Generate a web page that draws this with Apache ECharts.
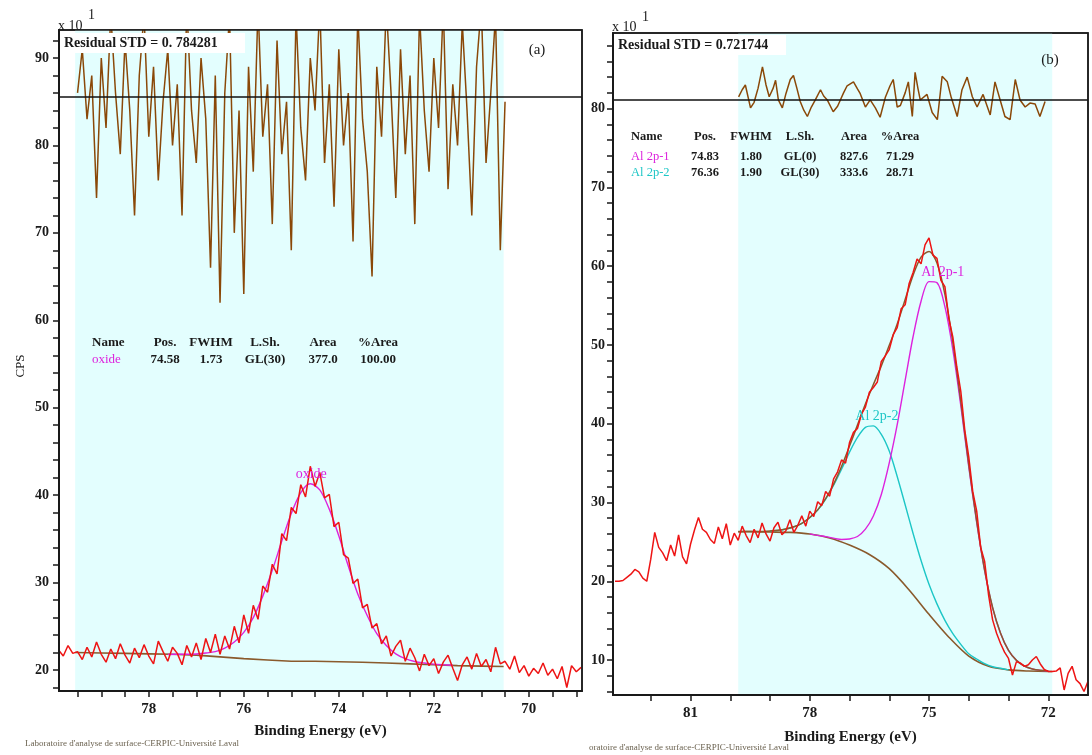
<!DOCTYPE html>
<html>
<head>
<meta charset="utf-8">
<script src="https://cdn.jsdelivr.net/npm/echarts@6.0.0/dist/echarts.min.js"></script>
<style>
  html, body { margin: 0; padding: 0; background: #ffffff; }
  #chart { width: 1092px; height: 755px; }
</style>
</head>
<body>
<div id="chart"></div>
<script>
// ---------------- Panel (a): single "oxide" component ----------------
// raw counts (x10), 0.1 eV step starting at 79.9 eV going down
const rawAStart = 79.9;
const rawAStep = 0.1;
const rawA = [
  22.3, 21.6, 22.8, 21.9, 22.1, 21.2, 22.6, 21.5, 23.2, 21.8,
  20.9, 22.4, 21.3, 23.0, 21.7, 20.8, 22.5, 21.4, 22.9, 21.6,
  20.7, 23.3, 22.1, 21.0, 22.6, 21.9, 20.6, 22.8, 21.5, 23.1,
  21.2, 23.6, 22.0, 24.1, 21.8, 23.9, 22.4, 25.0, 23.1, 26.3,
  24.2, 27.4, 25.8, 29.6, 28.9, 32.1, 31.0, 35.6, 34.8, 38.6,
  37.9, 41.2, 39.8, 43.3, 41.0, 42.6, 39.7, 40.1, 36.4, 36.9,
  33.2, 32.8, 29.9, 30.4, 27.1, 27.5, 24.8, 25.3, 23.0, 23.9,
  21.6, 22.7, 23.4, 21.0, 22.5, 21.4, 19.9, 21.8, 20.5, 21.3,
  19.6, 20.9, 21.7, 20.2, 18.8, 20.6, 21.5, 20.1, 21.9, 20.4,
  21.2, 19.8, 22.6, 20.7, 21.0, 20.1, 21.6, 19.7, 20.5, 19.3,
  20.2, 19.6, 20.8, 19.4, 20.1, 19.0, 20.4, 18.0, 20.5, 19.8,
  20.3
];
// Shirley-type background
const bgAEnergy = [79.55, 79.0, 78.5, 78.0, 77.5, 77.0, 76.5, 76.0, 75.5, 75.0, 74.5, 74.0, 73.5, 73.0, 72.5, 72.0, 71.5, 71.0, 70.53];
const bgA       = [22.0, 21.95, 21.9, 21.85, 21.8, 21.7, 21.5, 21.3, 21.15, 21.0, 21.0, 20.95, 20.88, 20.8, 20.7, 20.6, 20.5, 20.45, 20.4];
// fitted oxide component (on top of background), 0.2 eV step from 77.6 eV
const oxideStart = 77.6;
const oxideStep = 0.2;
const oxideFit = [
  21.78, 21.8, 21.8, 21.84, 21.94, 22.1, 22.5, 23.2, 24.3, 26.0,
  28.45, 31.4, 34.75, 37.9, 40.3, 41.3, 40.6, 38.4, 35.35, 31.9,
  28.7, 26.2, 24.15, 22.8, 21.85, 21.3, 20.98, 20.8, 20.67, 20.6,
  20.55
];
// residual trace, drawn around its own zero line
const residAStart = 79.5;
const residAStep = 0.1;
const residAZero = 85.54;
const residA = [
  86, 91, 83, 88, 74, 90, 82, 95, 86, 79,
  92, 84, 72, 88, 95, 81, 89, 76, 85, 91,
  80, 87, 72, 96, 84, 78, 90, 83, 66, 88,
  62, 86, 95, 70, 84, 63, 89, 77, 96, 81,
  87, 71, 92, 79, 85, 68, 95, 82, 76, 90,
  84, 96, 78, 87, 73, 91, 80, 86, 69, 95,
  83, 77, 65, 89, 81, 96, 86, 74, 91, 79,
  88, 71, 95, 84, 77, 90, 82, 96, 75, 87,
  80, 94, 84, 72, 89, 96, 78, 86, 95, 68,
  85
];
const cyanRangeA = [79.55, 70.53];

// ---------------- Panel (b): Al 2p doublet fit ----------------
const rawBStart = 82.9;
const rawBStep = 0.1;
const rawB = [
  20.0, 20.0, 20.1, 20.5, 20.9, 21.5, 21.2, 20.4, 20.0, 22.8,
  26.2, 24.3, 23.6, 22.6, 24.6, 23.2, 25.9, 23.1, 22.2, 24.7,
  26.5, 28.1, 26.6, 26.2, 25.3, 24.8, 26.9, 25.4, 27.3, 24.6,
  26.1, 25.2, 27.0, 25.8, 24.9, 26.6, 25.5, 27.4, 26.0, 25.1,
  26.8, 27.5, 25.9, 26.4, 27.8, 26.2, 27.1, 28.3, 27.0, 28.9,
  28.2, 30.1, 29.6, 31.4, 30.8, 33.0, 33.9, 35.4, 35.0, 37.6,
  38.9, 39.4, 41.2, 42.1, 44.0, 44.6, 45.3, 47.9, 48.6, 49.4,
  51.3, 52.2, 54.6, 55.1, 57.8, 59.2, 60.9, 60.3, 62.7, 63.6,
  61.4, 61.0, 58.2, 57.4, 53.3, 51.0, 47.2, 44.1, 39.2, 35.8,
  31.4, 28.9, 24.3, 22.5, 18.2, 15.1, 13.4, 12.1, 11.0, 10.2,
  8.1, 9.8, 9.6, 9.2, 9.4, 10.0, 10.45, 9.5, 8.8, 8.55,
  8.55, 8.6, 9.0, 6.2, 8.3, 9.2, 7.5, 7.0, 6.0, 7.3
];
const bgBEnergy = [79.8, 79.5, 79.0, 78.5, 78.0, 77.5, 77.0, 76.5, 76.0, 75.5, 75.0, 74.5, 74.0, 73.5, 73.0, 72.5, 72.0, 71.9];
const bgB       = [26.3, 26.3, 26.25, 26.2, 26.0, 25.5, 24.6, 23.4, 21.6, 18.9, 15.8, 12.9, 10.5, 9.2, 8.75, 8.6, 8.55, 8.55];
// Al 2p-1 component (on background), 0.2 eV step from 78.0 eV
const al1Start = 78.0;
const al1Step = 0.2;
const al1Fit = [
  26.01, 25.82, 25.66, 25.47, 25.31, 25.37, 25.68, 26.61, 28.29, 31.01,
  35.02, 39.88, 45.51, 51.07, 55.55, 58.04, 57.91, 54.86, 49.38, 42.29,
  34.51, 27.45, 21.32, 16.63, 13.39, 11.22, 9.96, 9.24, 8.87, 8.69,
  8.60
];
// Al 2p-2 component (on background), 0.2 eV step from 79.0 eV
const al2Start = 79.0;
const al2Step = 0.2;
const al2Fit = [
  26.37, 26.46, 26.63, 26.91, 27.35, 28.08, 29.04, 30.43, 32.19, 34.22,
  36.39, 38.26, 39.53, 39.72, 38.65, 36.53, 33.30, 29.71, 26.07, 22.64,
  19.62, 17.13, 15.04, 13.35, 11.99, 10.79, 10.13, 9.54, 9.15, 8.95,
  8.75
];
// envelope, 0.2 eV step from 79.8 eV
const envBStart = 79.8;
const envBStep = 0.2;
const envB = [
  26.3, 26.32, 26.32, 26.33, 26.37, 26.46, 26.63, 26.91, 27.35, 28.09,
  29.06, 30.49, 32.34, 34.57, 37.16, 39.82, 42.50, 44.97, 47.34, 49.95,
  52.66, 55.78, 58.86, 61.15, 61.86, 60.40, 56.42, 50.31, 42.82, 34.80,
  27.60, 21.40, 16.67, 13.41, 11.22, 9.96, 9.24, 8.87, 8.69, 8.60
];
const residBZero = 81.13;
const residBEnergy = [
  79.79, 79.7, 79.62, 79.49, 79.4, 79.3, 79.19, 79.1, 79.02, 78.92,
  78.86, 78.79, 78.69, 78.6, 78.49, 78.41, 78.32, 78.24, 78.15, 78.06,
  77.96, 77.86, 77.73, 77.65, 77.56, 77.41, 77.3, 77.23, 77.15, 77.06,
  76.9, 76.8, 76.73, 76.6, 76.48, 76.35, 76.23, 76.1, 75.98, 75.9,
  75.8, 75.72, 75.6, 75.52, 75.42, 75.35, 75.28, 75.22, 75.05, 74.92,
  74.79, 74.67, 74.54, 74.44, 74.29, 74.17, 74.04, 73.91, 73.79, 73.64,
  73.46, 73.34, 73.21, 73.09, 72.96, 72.83, 72.71, 72.58, 72.46, 72.33,
  72.21, 72.08
];
const residB = [
  81.5, 82.4, 83.0, 80.1, 80.8, 82.6, 85.3, 83.0, 81.5, 82.6,
  83.6, 81.1, 80.1, 81.9, 83.7, 84.2, 82.5, 80.9, 79.8, 79.0,
  80.2, 81.1, 82.4, 81.6, 81.1, 79.6, 80.3, 81.1, 82.0, 82.9,
  83.4, 82.5, 81.9, 80.2, 81.1, 80.1, 78.9, 81.4, 82.9, 83.7,
  80.2, 80.4, 82.0, 83.4, 79.0, 84.6, 82.6, 81.1, 81.8, 79.5,
  78.6, 84.1, 83.4, 81.4, 79.0, 82.4, 84.0, 81.5, 80.2, 81.8,
  79.2, 83.4, 81.1, 79.0, 78.6, 83.7, 81.1, 80.2, 80.7, 80.6,
  79.0, 80.9
];
const cyanRangeB = [79.8, 71.9];

// ---------------- axes ----------------
const xTicksA  = [69, 69.5, 70, 70.5, 71, 71.5, 72, 72.5, 73, 73.5, 74, 74.5, 75, 75.5, 76, 76.5, 77, 77.5, 78, 78.5, 79, 79.5];
const xLabelsA = [70, 72, 74, 76, 78];
const yTicksA  = [18, 20, 22, 24, 26, 28, 30, 32, 34, 36, 38, 40, 42, 44, 46, 48, 50, 52, 54, 56, 58, 60, 62, 64, 66, 68, 70, 72, 74, 76, 78, 80, 82, 84, 86, 88, 90, 92];
const yLabelsA = [20, 30, 40, 50, 60, 70, 80, 90];
const xTicksB  = [72, 73, 74, 75, 76, 77, 78, 79, 80, 81, 82];
const xLabelsB = [72, 75, 78, 81];
const yTicksB  = [6, 8, 10, 12, 14, 16, 18, 20, 22, 24, 26, 28, 30, 32, 34, 36, 38, 40, 42, 44, 46, 48, 50, 52, 54, 56, 58, 60, 62, 64, 66, 68, 70, 72, 74, 76, 78, 80, 82, 84, 86, 88];
const yLabelsB = [10, 20, 30, 40, 50, 60, 70, 80];

// ---------------- tables ----------------
const tableHead = ['Name', 'Pos.', 'FWHM', 'L.Sh.', 'Area', '%Area'];
const tableRowsA = [['oxide', '74.58', '1.73', 'GL(30)', '377.0', '100.00']];
const tableRowsB = [
  ['Al 2p-1', '74.83', '1.80', 'GL(0)', '827.6', '71.29'],
  ['Al 2p-2', '76.36', '1.90', 'GL(30)', '333.6', '28.71']
];

// ---------------- drawing ----------------
const SERIF = '"Liberation Serif", "DejaVu Serif", serif';
const RED = '#ee1414';
const RESID = '#8a4808';
const BROWN = '#8a5a2c';
const MAGENTA = '#dd22dd';
const CYAN = '#1cc6c6';
const CYAN_FILL = '#e3fefe';

function stepPairs(start, step, values) {
  return values.map((v, i) => [+(start - i * step).toFixed(3), v]);
}
function zipPairs(xs, ys) { return xs.map((x, i) => [x, ys[i]]); }

function xAxisDef(gi, min, max, ticks, labels, gap) {
  return {
    gridIndex: gi, type: 'value', inverse: true, min: min, max: max, z: 10,
    axisLine: { show: true, onZero: false, lineStyle: { color: '#1a1a1a', width: 2 } },
    axisTick: { show: true, inside: false, length: 6, customValues: ticks, lineStyle: { color: '#1a1a1a', width: 1.5 } },
    axisLabel: { show: true, customValues: labels, margin: 11, fontFamily: SERIF, fontSize: 15, fontWeight: 'bold', color: '#1a1a1a' },
    splitLine: { show: false },
    name: 'Binding Energy (eV)', nameLocation: 'middle', nameGap: gap,
    nameTextStyle: { fontFamily: SERIF, fontSize: 15, fontWeight: 'bold', color: '#1a1a1a' }
  };
}
function yAxisDef(gi, min, max, ticks, labels, margin) {
  return {
    gridIndex: gi, type: 'value', min: min, max: max, z: 10,
    axisLine: { show: true, onZero: false, lineStyle: { color: '#1a1a1a', width: 2 } },
    axisTick: { show: true, inside: false, length: 6, customValues: ticks, lineStyle: { color: '#1a1a1a', width: 1.5 } },
    axisLabel: { show: true, customValues: labels, margin: margin, fontFamily: SERIF, fontSize: 14, fontWeight: 'bold', color: '#1a1a1a' },
    splitLine: { show: false }
  };
}
function lineSeries(xi, data, color, width, extra) {
  return Object.assign({
    type: 'line', xAxisIndex: xi, yAxisIndex: xi, data: data,
    showSymbol: false, symbol: 'none', animation: false, silent: true,
    lineStyle: { color: color, width: width }, itemStyle: { color: color }
  }, extra || {});
}
function peakLabel(text, coord, color, offset) {
  return {
    symbol: 'circle', symbolSize: 1, silent: true, animation: false,
    itemStyle: { color: 'rgba(0,0,0,0)' },
    label: { show: true, position: 'top', distance: 2, offset: offset, formatter: text,
             color: color, fontFamily: SERIF, fontSize: 14 },
    data: [{ coord: coord }]
  };
}
function zeroLine(v) {
  return {
    silent: true, symbol: ['none', 'none'], animation: false,
    label: { show: false },
    lineStyle: { color: '#111', width: 1.5, type: 'solid' },
    data: [{ yAxis: v }]
  };
}
function cyanArea(range) {
  return { silent: true, itemStyle: { color: CYAN_FILL }, data: [[{ xAxis: range[0] }, { xAxis: range[1] }]] };
}

const graphics = [];
function txt(x, y, s, o) {
  o = o || {};
  graphics.push({
    type: 'text', x: x, y: y, z: 100, silent: true, rotation: o.rotation || 0,
    style: {
      text: s, fill: o.color || '#1a1a1a',
      font: (o.weight || 'bold') + ' ' + (o.size || 13) + 'px ' + SERIF,
      textAlign: o.align || 'left', textVerticalAlign: 'middle'
    }
  });
}
function box(x, y, w, h) {
  graphics.push({ type: 'rect', z: 99, silent: true, shape: { x: x, y: y, width: w, height: h }, style: { fill: '#ffffff' } });
}
function frame(x, y, w, h) {
  graphics.push({ type: 'rect', z: 101, silent: true, shape: { x: x, y: y, width: w, height: h },
                  style: { fill: null, stroke: '#1a1a1a', lineWidth: 1.5 } });
}
function table(head, rows, nameX, cols, headY, rowYs, rowColors, size) {
  txt(nameX, headY, head[0], { size: size });
  for (let c = 1; c < head.length; c++) txt(cols[c - 1], headY, head[c], { size: size, align: 'center' });
  rows.forEach((r, i) => {
    txt(nameX, rowYs[i], r[0], { size: size, color: rowColors[i], weight: 'normal' });
    for (let c = 1; c < r.length; c++) txt(cols[c - 1], rowYs[i], r[c], { size: size, align: 'center' });
  });
}

// scale factor labels
txt(58, 26, 'x 10', { size: 14, weight: 'normal' });
txt(88, 15, '1', { size: 14, weight: 'normal' });
txt(612, 27, 'x 10', { size: 14, weight: 'normal' });
txt(642, 17, '1', { size: 14, weight: 'normal' });
// residual summaries
box(61, 33, 184, 20);
txt(64, 43, 'Residual STD = 0. 784281', { size: 14 });
box(615, 35, 171, 20);
txt(618, 45, 'Residual STD = 0.721744', { size: 14 });
// panel tags
txt(537, 50, '(a)', { size: 15, weight: 'normal', align: 'center' });
txt(1050, 60, '(b)', { size: 15, weight: 'normal', align: 'center' });
// component tables
table(tableHead, tableRowsA, 92, [165, 211, 265, 323, 378], 343, [360], [MAGENTA], 13);
table(tableHead, tableRowsB, 631, [705, 751, 800, 854, 900], 137, [157, 173], [MAGENTA, CYAN], 12.5);
// y axis title
txt(21, 366, 'CPS', { size: 13, weight: 'normal', align: 'center', rotation: Math.PI / 2 });
// lab footers
txt(25, 744, "Laboratoire d'analyse de surface-CERPIC-Université Laval", { size: 9, weight: 'normal', color: '#6b6250' });
txt(589, 748, "oratoire d'analyse de surface-CERPIC-Université Laval", { size: 9, weight: 'normal', color: '#6b6250' });
// plot frames drawn over the shaded fit ranges
frame(59, 30, 523, 661);
frame(613, 33, 475, 662);

const oxidePos = Number(tableRowsA[0][1]);
const al1Pos = Number(tableRowsB[0][1]);
const al2Pos = Number(tableRowsB[1][1]);

const option = {
  backgroundColor: '#ffffff',
  animation: false,
  grid: [
    { left: 59, top: 30, width: 523, height: 661, show: true, borderColor: '#1a1a1a', borderWidth: 1.5, outerBoundsMode: 'none', containLabel: false },
    { left: 613, top: 33, width: 475, height: 662, show: true, borderColor: '#1a1a1a', borderWidth: 1.5, outerBoundsMode: 'none', containLabel: false }
  ],
  xAxis: [
    xAxisDef(0, 68.88, 79.89, xTicksA, xLabelsA, 33),
    xAxisDef(1, 71.0, 82.95, xTicksB, xLabelsB, 35)
  ],
  yAxis: [
    yAxisDef(0, 17.6, 93.2, yTicksA, yLabelsA, 10),
    yAxisDef(1, 5.56, 89.6, yTicksB, yLabelsB, 8)
  ],
  series: [
    // panel (a)
    lineSeries(0, zipPairs(bgAEnergy, bgA), BROWN, 1.6, { markArea: cyanArea(cyanRangeA) }),
    lineSeries(0, stepPairs(oxideStart, oxideStep, oxideFit), MAGENTA, 1.4, {
      smooth: 0.3,
      markPoint: peakLabel('oxide', [oxidePos, Math.max.apply(null, oxideFit)], MAGENTA, [0, 0])
    }),
    lineSeries(0, stepPairs(rawAStart, rawAStep, rawA), RED, 1.5),
    lineSeries(0, stepPairs(residAStart, residAStep, residA), RESID, 1.5, { markLine: zeroLine(residAZero) }),
    // panel (b)
    lineSeries(1, zipPairs(bgBEnergy, bgB), BROWN, 1.6, { smooth: 0.3, markArea: cyanArea(cyanRangeB) }),
    lineSeries(1, stepPairs(al2Start, al2Step, al2Fit), CYAN, 1.4, {
      smooth: 0.3,
      markPoint: peakLabel('Al 2p-2', [al2Pos, Math.max.apply(null, al2Fit)], CYAN, [2, 0])
    }),
    lineSeries(1, stepPairs(al1Start, al1Step, al1Fit), MAGENTA, 1.4, {
      smooth: 0.3,
      markPoint: peakLabel('Al 2p-1', [al1Pos, Math.max.apply(null, al1Fit)], MAGENTA, [7, 0])
    }),
    lineSeries(1, stepPairs(envBStart, envBStep, envB), BROWN, 1.5, { smooth: 0.3 }),
    lineSeries(1, stepPairs(rawBStart, rawBStep, rawB), RED, 1.5),
    lineSeries(1, zipPairs(residBEnergy, residB), RESID, 1.5, { markLine: zeroLine(residBZero) })
  ],
  graphic: graphics
};

const chart = echarts.init(document.getElementById('chart'), null, { renderer: 'canvas' });
chart.setOption(option);
</script>
</body>
</html>
